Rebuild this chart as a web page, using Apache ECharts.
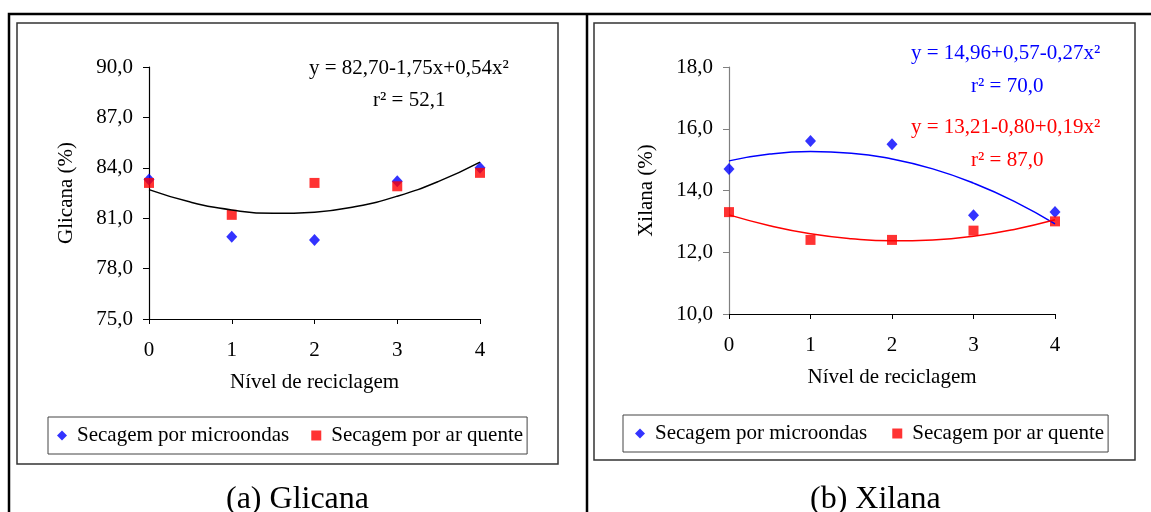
<!DOCTYPE html>
<html>
<head>
<meta charset="utf-8">
<script src="https://cdn.jsdelivr.net/npm/echarts@6/dist/echarts.min.js"></script>
<style>
  html, body { margin: 0; padding: 0; background: #fff; }
  #chart { width: 1151px; height: 512px; }
</style>
</head>
<body>
<div id="chart"></div>
<script>
const FONT = '"Liberation Serif", "Times New Roman", serif';

// nível de reciclagem
const niveis = [0, 1, 2, 3, 4];
// pontos da curva de tendência
const niveisCurva = [0, 0.5, 1, 1.5, 2, 2.5, 3, 3.5, 4];

// (a) Glicana
const glicanaMicro = [83.3, 79.9, 79.7, 83.2, 84.0];
const glicanaAr = [83.1, 81.2, 83.1, 82.9, 83.7];
const glicanaCurva = [82.70, 81.96, 81.49, 81.29, 81.36, 81.70, 82.31, 83.19, 84.34];

// (b) Xilana
const xilanaMicro = [14.7, 15.6, 15.5, 13.2, 13.3];
const xilanaAr = [13.3, 12.4, 12.4, 12.7, 13.0];
const xilanaCurvaMicro = [14.96, 15.18, 15.26, 15.21, 15.02, 14.70, 14.24, 13.65, 12.92];
const xilanaCurvaAr = [13.21, 12.86, 12.60, 12.44, 12.37, 12.40, 12.52, 12.74, 13.05];

const nomes = ['Secagem por microondas', 'Secagem por ar quente'];

const pares = (xs, ys) => xs.map((x, i) => [x, ys[i]]);
const fmt = v => v.toFixed(1).replace('.', ',');

const chart = echarts.init(document.getElementById('chart'));

const xAxisBase = (gridIndex) => ({
  gridIndex,
  type: 'value',
  min: 0,
  max: 4,
  interval: 1,
  name: 'Nível de reciclagem',
  nameLocation: 'middle',
  nameGap: 53,
  nameTextStyle: { fontFamily: FONT, fontSize: 21, color: '#000' },
  axisLine: { lineStyle: { color: '#000', width: 1 } },
  axisTick: { length: 5, lineStyle: { color: '#000' } },
  axisLabel: { fontFamily: FONT, fontSize: 21, color: '#000', margin: 21 },
  splitLine: { show: false },
});

const yAxisBase = (gridIndex, min, max, interval, name, lineColor) => ({
  gridIndex,
  type: 'value',
  min,
  max,
  interval,
  name,
  nameLocation: 'middle',
  nameGap: 72,
  nameTextStyle: { fontFamily: FONT, fontSize: 21, color: '#000' },
  axisLine: { show: true, lineStyle: { color: lineColor, width: 1.2 } },
  axisTick: { show: true, length: 6, lineStyle: { color: lineColor } },
  axisLabel: { fontFamily: FONT, fontSize: 21, color: '#000', margin: 16, formatter: fmt },
  splitLine: { show: false },
});

const legendBase = (left, top, padding, itemGap) => ({
  data: nomes,
  left,
  top,
  orient: 'horizontal',
  padding,
  itemGap,
  itemWidth: 10,
  itemHeight: 10,
  borderColor: '#444',
  borderWidth: 1,
  textStyle: { fontFamily: FONT, fontSize: 21, color: '#000', padding: [0, 0, 0, 5] },
});

const eq = (x, y, text, color) => ({
  type: 'text',
  left: x,
  top: y,
  style: { text, fontFamily: FONT, fontSize: 21, fill: color },
});

const option = {
  backgroundColor: '#fff',
  animation: false,
  grid: [
    { left: 149, top: 67, width: 331, height: 252 },
    { left: 729, top: 67, width: 326, height: 247 },
  ],
  xAxis: [xAxisBase(0), xAxisBase(1)],
  yAxis: [
    yAxisBase(0, 75, 90, 3, 'Glicana (%)', '#000'),
    yAxisBase(1, 10, 18, 2, 'Xilana (%)', '#808080'),
  ],
  legend: [
    legendBase(48, 417, [8, 4, 8, 9], 22),
    legendBase(623, 415, [8, 4, 8, 12], 25),
  ],
  graphic: [
    // moldura da tabela
    { type: 'rect', shape: { x: 9, y: 14, width: 1200, height: 600 }, style: { fill: 'none', stroke: '#000', lineWidth: 2.5 }, silent: true },
    { type: 'line', shape: { x1: 587, y1: 14, x2: 587, y2: 520 }, style: { stroke: '#000', lineWidth: 2.5 }, silent: true },
    // caixas dos gráficos
    { type: 'rect', shape: { x: 17, y: 23, width: 541, height: 441 }, style: { fill: 'none', stroke: '#333', lineWidth: 1.5 }, silent: true },
    { type: 'rect', shape: { x: 594, y: 23, width: 541, height: 437 }, style: { fill: 'none', stroke: '#333', lineWidth: 1.5 }, silent: true },
    // equações
    eq(309, 58, 'y = 82,70-1,75x+0,54x²', '#000'),
    eq(373, 90, 'r² = 52,1', '#000'),
    eq(911, 43, 'y = 14,96+0,57-0,27x²', '#0000ff'),
    eq(971, 76, 'r² = 70,0', '#0000ff'),
    eq(911, 117, 'y = 13,21-0,80+0,19x²', '#ff0000'),
    eq(971, 150, 'r² = 87,0', '#ff0000'),
    // legendas das figuras
    { type: 'text', left: 226, top: 484, style: { text: '(a) Glicana', fontFamily: FONT, fontSize: 32, fill: '#000' } },
    { type: 'text', left: 810, top: 484, style: { text: '(b) Xilana', fontFamily: FONT, fontSize: 32, fill: '#000' } },
  ],
  series: [
    {
      name: nomes[0], type: 'scatter', xAxisIndex: 0, yAxisIndex: 0,
      symbol: 'diamond', symbolSize: [11, 12],
      itemStyle: { color: '#0000ff' },
      data: pares(niveis, glicanaMicro),
    },
    {
      name: nomes[1], type: 'scatter', xAxisIndex: 0, yAxisIndex: 0,
      symbol: 'rect', symbolSize: 10,
      itemStyle: { color: '#ff0000' },
      data: pares(niveis, glicanaAr),
    },
    {
      name: 'Tendência', type: 'line', xAxisIndex: 0, yAxisIndex: 0,
      smooth: true, showSymbol: false,
      lineStyle: { color: '#000', width: 1.5 },
      data: pares(niveisCurva, glicanaCurva),
    },
    {
      name: nomes[0], type: 'scatter', xAxisIndex: 1, yAxisIndex: 1,
      symbol: 'diamond', symbolSize: [11, 12],
      itemStyle: { color: '#0000ff' },
      data: pares(niveis, xilanaMicro),
    },
    {
      name: nomes[1], type: 'scatter', xAxisIndex: 1, yAxisIndex: 1,
      symbol: 'rect', symbolSize: 10,
      itemStyle: { color: '#ff0000' },
      data: pares(niveis, xilanaAr),
    },
    {
      name: 'Tendência microondas', type: 'line', xAxisIndex: 1, yAxisIndex: 1,
      smooth: true, showSymbol: false,
      lineStyle: { color: '#0000ff', width: 1.5 },
      data: pares(niveisCurva, xilanaCurvaMicro),
    },
    {
      name: 'Tendência ar quente', type: 'line', xAxisIndex: 1, yAxisIndex: 1,
      smooth: true, showSymbol: false,
      lineStyle: { color: '#ff0000', width: 1.5 },
      data: pares(niveisCurva, xilanaCurvaAr),
    },
  ],
};

chart.setOption(option);
</script>
</body>
</html>
